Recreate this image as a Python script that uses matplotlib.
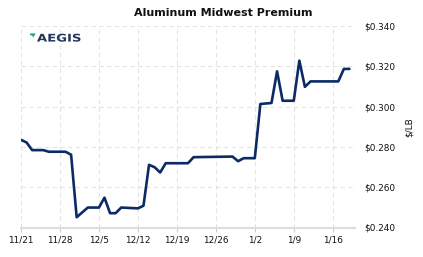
import matplotlib
matplotlib.use("Agg")
import matplotlib.pyplot as plt
from matplotlib.patches import Polygon, PathPatch
from matplotlib.textpath import TextPath
from matplotlib.font_manager import FontProperties
from matplotlib.transforms import Affine2D, IdentityTransform
import pandas as pd

title = "Aluminum Midwest Premium"
y_label = "$/LB"
dates = ["2022-11-21", "2022-11-22", "2022-11-23", "2022-11-25", "2022-11-26", "2022-11-29",
         "2022-11-30", "2022-12-01", "2022-12-03", "2022-12-05", "2022-12-06", "2022-12-07",
         "2022-12-08", "2022-12-09", "2022-12-12", "2022-12-13", "2022-12-14", "2022-12-15",
         "2022-12-16", "2022-12-17", "2022-12-21", "2022-12-22", "2022-12-29", "2022-12-30",
         "2022-12-31", "2023-01-02", "2023-01-03", "2023-01-05", "2023-01-06", "2023-01-07",
         "2023-01-09", "2023-01-10", "2023-01-11", "2023-01-12", "2023-01-17", "2023-01-18",
         "2023-01-19"]
values = [0.2835, 0.2822, 0.2784, 0.2784, 0.2776, 0.2776,
          0.2761, 0.2451, 0.2499, 0.2499, 0.2548, 0.2471,
          0.2471, 0.2499, 0.2495, 0.2508, 0.2711, 0.2699,
          0.2673, 0.2719, 0.2719, 0.2749, 0.2752, 0.2729,
          0.2744, 0.2744, 0.3013, 0.3018, 0.3175, 0.3029,
          0.3029, 0.3228, 0.3098, 0.3125, 0.3125, 0.3187,
          0.3187]
x_ticks = ["2022-11-21", "2022-11-28", "2022-12-05", "2022-12-12", "2022-12-19",
           "2022-12-26", "2023-01-02", "2023-01-09", "2023-01-16"]
x_tick_labels = ["11/21", "11/28", "12/5", "12/12", "12/19", "12/26", "1/2", "1/9", "1/16"]
y_ticks = [0.24, 0.26, 0.28, 0.30, 0.32, 0.34]
y_tick_labels = ["$0.240", "$0.260", "$0.280", "$0.300", "$0.320", "$0.340"]
logo_text = "AEGIS"

W, H = 423, 257
fig = plt.figure(figsize=(W / 100, H / 100), dpi=100)
fig.patch.set_facecolor("white")
ax = fig.add_axes([21 / W, 1 - 227.5 / H, (355 - 21) / W, (227.5 - 26) / H])

d = pd.to_datetime(dates)
ax.plot(d, values, color="#0b2a66", linewidth=1.9, solid_joinstyle="round",
        solid_capstyle="round", zorder=3)

ax.set_xlim(pd.Timestamp("2022-11-21"), pd.Timestamp("2023-01-20"))
ax.set_ylim(0.24, 0.34)
ax.set_xticks(pd.to_datetime(x_ticks))
ax.set_xticklabels(x_tick_labels)
ax.set_yticks(y_ticks)
ax.set_yticklabels(y_tick_labels)
ax.yaxis.tick_right()
ax.yaxis.set_label_position("right")
ax.tick_params(axis="y", length=0, pad=6.5, labelsize=6.4, labelcolor="#111111")
ax.tick_params(axis="x", length=3, width=0.8, color="#cccccc", pad=3, labelsize=6.4,
               labelcolor="#111111")
ax.set_ylabel(y_label, fontsize=6.4, rotation=90, labelpad=7, color="#111111")

ax.grid(True, color="#e3e3e3", linestyle=(0, (4, 3)), linewidth=0.8)
for s in ["top", "right", "left"]:
    ax.spines[s].set_visible(False)
ax.spines["bottom"].set_color("#dddddd")
ax.spines["bottom"].set_linewidth(1.5)

fig.text(223 / W, 1 - 13 / H, title, ha="center", va="center", fontsize=8,
         fontweight="bold", color="#111111")

# logo (wide letterforms via scaled text path)
tp = TextPath((0, 0), logo_text, size=10,
              prop=FontProperties(family="DejaVu Sans", weight="bold"))
ext = tp.get_extents()
sx = (80.5 - 37.0) / ext.width
sy = 8.0 / ext.height
tr = (Affine2D().translate(-ext.x0, -ext.y0).scale(sx, sy)
      .translate(37.0, H - 41.7))
patch = PathPatch(tp, transform=tr + IdentityTransform(), facecolor="#22365e",
                  edgecolor="none")
fig.patches.append(patch)
flag = [(30.0, 33.5), (35.8, 33.5), (33.2, 37.3), (32.0, 35.3), (30.0, 35.3)]
logo = Polygon([[px / W, 1 - py / H] for px, py in flag], closed=True,
               transform=fig.transFigure, facecolor="#1aa37a", edgecolor="none")
fig.patches.append(logo)

fig.savefig("out.png", dpi=100, facecolor="white")
